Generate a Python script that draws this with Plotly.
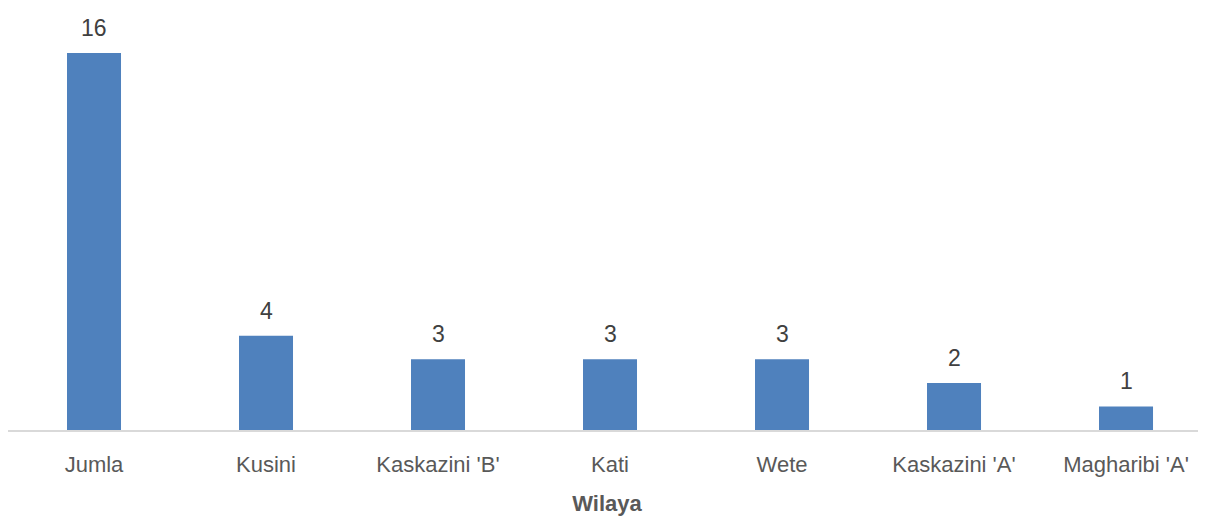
import plotly.graph_objects as go

categories = ["Jumla", "Kusini", "Kaskazini 'B'", "Kati", "Wete", "Kaskazini 'A'", "Magharibi 'A'"]
values = [16, 4, 3, 3, 3, 2, 1]

FONT = "Liberation Sans Narrow, Arial Narrow, Liberation Sans, Arial, sans-serif"

fig = go.Figure(go.Bar(
    x=categories, y=values,
    marker=dict(color="#4f81bd", line=dict(width=0)),
    cliponaxis=False,
))

for c, v in zip(categories, values):
    fig.add_annotation(x=c, y=v, text=str(v), showarrow=False,
                       yanchor="bottom", yshift=10,
                       font=dict(family=FONT, size=23, color="#404040"))

fig.update_layout(
    width=1198, height=511,
    margin=dict(l=0, r=0, t=0, b=89, autoexpand=False),
    paper_bgcolor="white", plot_bgcolor="white",
    bargap=0.686,
    showlegend=False,
    xaxis=dict(
        automargin=False,
        range=[-0.5, 6.465],
        showline=True, linecolor="#d9d9d9", linewidth=2,
        ticks="", ticklabelstandoff=14,
        tickfont=dict(family=FONT, size=22, color="#595959"),
        title=dict(text="<b>Wilaya</b>", font=dict(family=FONT, size=22, color="#595959"), standoff=19),
        showgrid=False,
    ),
    yaxis=dict(range=[0, 17.91], visible=False, showgrid=False, automargin=False),
)

fig.write_html("out.html")
